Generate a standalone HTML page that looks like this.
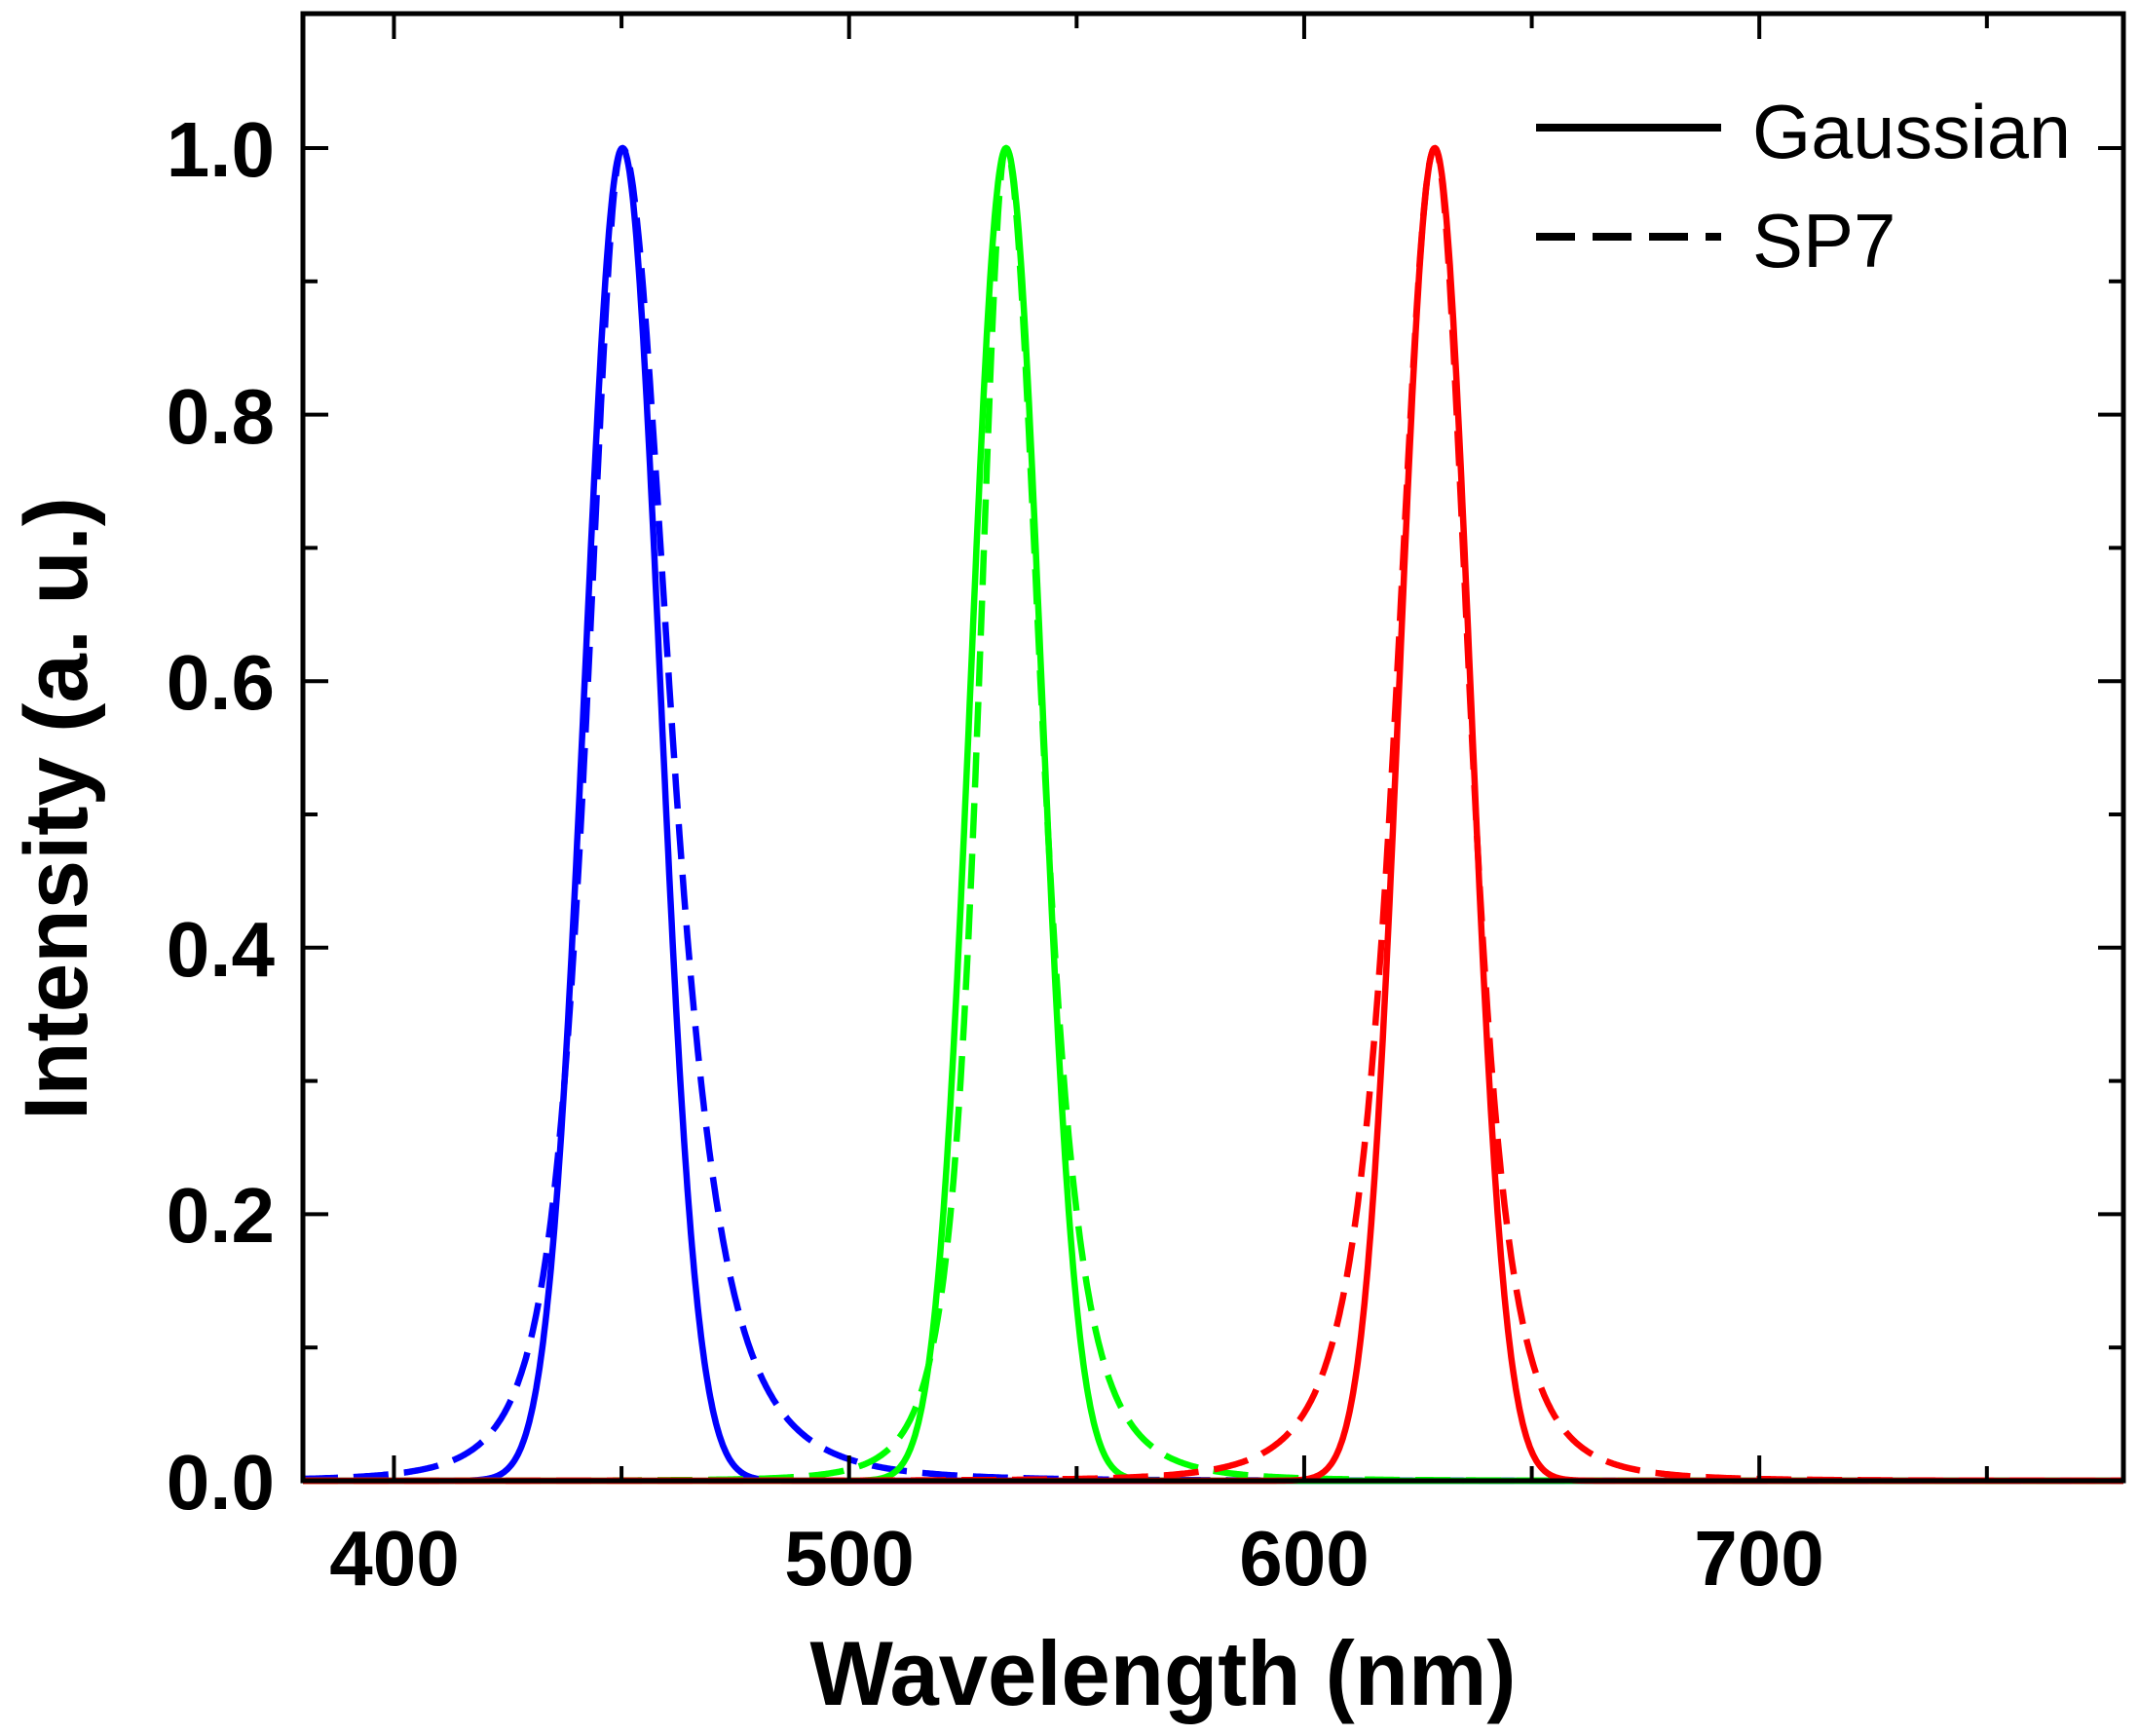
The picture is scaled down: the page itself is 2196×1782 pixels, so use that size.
<!DOCTYPE html>
<html><head><meta charset="utf-8"><style>
html,body{margin:0;padding:0;background:#fff}
svg{display:block}
</style></head><body>
<svg id="s" width="2196" height="1782" viewBox="0 0 2196 1782" xmlns="http://www.w3.org/2000/svg" font-family="Liberation Sans, sans-serif">
<rect width="2196" height="1782" fill="#fff"/>
<g id="curves" fill="none" stroke-width="6.5" stroke-linejoin="round"></g>
<g id="ticks" stroke="#000" stroke-width="4"></g>
<rect x="311" y="14" width="1869" height="1506" fill="none" stroke="#000" stroke-width="5"/>
<g font-weight="bold" font-size="80" fill="#000" text-anchor="end">
<text x="282" y="1549">0.0</text>
<text x="282" y="1275">0.2</text>
<text x="282" y="1002">0.4</text>
<text x="282" y="728">0.6</text>
<text x="282" y="455">0.8</text>
<text x="282" y="181">1.0</text>
</g>
<g font-weight="bold" font-size="80" fill="#000" text-anchor="middle">
<text x="405" y="1627">400</text>
<text x="872" y="1627">500</text>
<text x="1339" y="1627">600</text>
<text x="1806" y="1627">700</text>
</g>
<text x="1194" y="1750" font-weight="bold" font-size="94" text-anchor="middle" textLength="725" lengthAdjust="spacingAndGlyphs">Wavelength (nm)</text>
<text transform="translate(89,830) rotate(-90)" font-weight="bold" font-size="92" text-anchor="middle" textLength="640" lengthAdjust="spacingAndGlyphs">Intensity (a. u.)</text>
<line x1="1577" y1="131" x2="1767" y2="131" stroke="#000" stroke-width="8"/>
<line x1="1577" y1="243" x2="1767" y2="243" stroke="#000" stroke-width="8" stroke-dasharray="40 18"/>
<text x="1799" y="162" font-size="78" textLength="327" lengthAdjust="spacingAndGlyphs">Gaussian</text>
<text x="1799" y="274" font-size="78">SP7</text>
</svg>
<script>
(function(){
var X=function(l){return 311+(l-380)*4.6725;};
var Y=function(v){return 1520-v*1368;};
var g=document.getElementById('curves');
function gauss(c,s){return function(l){var d=l-c;return Math.exp(-d*d/(2*s*s));};}
function sp(c,wl,wr){return function(l){var d=l-c;var w=d<0?wl:wr;var u=(d/w)*(d/w);return 1/((1+u)*(1+u));};}
function path(f,col,dash){
  var d='';
  for(var l=380;l<=780;l+=0.25){d+=(l===380?'M':'L')+X(l).toFixed(1)+','+Y(f(l)).toFixed(1);}
  var p=document.createElementNS('http://www.w3.org/2000/svg','path');
  p.setAttribute('d',d);p.setAttribute('stroke',col);
  if(dash)p.setAttribute('stroke-dasharray','36 16');
  g.appendChild(p);
}
path(sp(450.2,14,19),'#0000ff',true);
path(gauss(450.2,8.2),'#0000ff',false);
path(sp(534.5,11,14),'#00ff00',true);
path(gauss(534.5,7.7),'#00ff00',false);
path(sp(628.7,15.5,14),'#ff0000',true);
path(gauss(628.7,7.7),'#ff0000',false);
var t=document.getElementById('ticks');
function ln(a,b,c,d){var e=document.createElementNS('http://www.w3.org/2000/svg','line');e.setAttribute('x1',a);e.setAttribute('y1',b);e.setAttribute('x2',c);e.setAttribute('y2',d);t.appendChild(e);}
for(var l=400;l<=750;l+=50){var x=X(l);var L=(l%100===0)?26:15;ln(x,1520,x,1520-L);ln(x,14,x,14+L);}
for(var i=0;i<=10;i++){var y=Y(i/10);var L=(i%2===0)?26:15;ln(311,y,311+L,y);ln(2180,y,2180-L,y);}
})();
</script>
</body></html>
